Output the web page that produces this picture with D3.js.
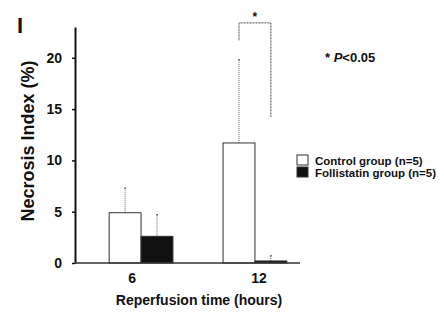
<!DOCTYPE html>
<html>
<head>
<meta charset="utf-8">
<script src="https://cdn.jsdelivr.net/npm/d3@7"></script>
<style>
  body { margin: 0; background: #fff; }
  text { font-family: "Liberation Sans", Arial, sans-serif; font-weight: bold; fill: #111; }
</style>
</head>
<body>
<div id="chart"></div>
<script>
// Data
const hours = ["6", "12"];
const groups = ["Control group (n=5)", "Follistatin group (n=5)"];
const controlMean = [4.9, 11.7];
const controlErr = [2.4, 8.1];
const follistatinMean = [2.6, 0.2];
const follistatinErr = [2.1, 0.5];
const yTicks = [0, 5, 10, 15, 20];

const W = 444, H = 314;
const margin = { top: 27, left: 75 };
const width = 246, height = 236;

const svg = d3.select("#chart").append("svg")
    .attr("width", W)
    .attr("height", H);

const g = svg.append("g")
    .attr("transform", `translate(${margin.left},${margin.top})`);

// Scales
const x = d3.scaleBand().domain(hours).range([0, width])
    .paddingInner(0.44).paddingOuter(0.3);
const x1 = d3.scaleBand().domain(groups).range([0, x.bandwidth()]);
const y = d3.scaleLinear().domain([0, 23]).range([height, 0]);

const rows = [];
hours.forEach((h, i) => {
  rows.push({ hour: h, group: groups[0], mean: controlMean[i], err: controlErr[i] });
  rows.push({ hour: h, group: groups[1], mean: follistatinMean[i], err: follistatinErr[i] });
});
const fill = d3.scaleOrdinal().domain(groups).range(["#fff", "#111"]);

// Error bars (dotted, behind the bars)
g.selectAll(".err")
  .data(rows)
  .enter().append("line")
    .attr("class", "err")
    .attr("x1", d => x(d.hour) + x1(d.group) + x1.bandwidth() / 2)
    .attr("x2", d => x(d.hour) + x1(d.group) + x1.bandwidth() / 2)
    .attr("y1", d => y(d.mean))
    .attr("y2", d => y(d.mean + d.err))
    .attr("stroke", "#666")
    .attr("stroke-width", 1)
    .attr("stroke-dasharray", "1,1");

g.selectAll(".cap")
  .data(rows)
  .enter().append("line")
    .attr("class", "cap")
    .attr("x1", d => x(d.hour) + x1(d.group) + x1.bandwidth() / 2 - 1)
    .attr("x2", d => x(d.hour) + x1(d.group) + x1.bandwidth() / 2 + 1)
    .attr("y1", d => y(d.mean + d.err))
    .attr("y2", d => y(d.mean + d.err))
    .attr("stroke", "#444");

// Bars
g.selectAll(".bar")
  .data(rows)
  .enter().append("rect")
    .attr("class", "bar")
    .attr("x", d => x(d.hour) + x1(d.group))
    .attr("y", d => y(d.mean))
    .attr("width", x1.bandwidth())
    .attr("height", d => y(0) - y(d.mean))
    .attr("fill", d => fill(d.group))
    .attr("stroke", "#333")
    .attr("stroke-width", 1);

// Y axis
const yAxis = g.append("g")
    .call(d3.axisLeft(y).tickValues(yTicks).tickSize(3).tickSizeOuter(0).tickPadding(10));
yAxis.select(".domain").attr("stroke", "#111").attr("stroke-width", 2);
yAxis.selectAll(".tick line").attr("stroke", "#111").attr("stroke-width", 1.5);
yAxis.selectAll(".tick text").style("font-size", "14px").style("font-family", "Liberation Sans, Arial, sans-serif").attr("font-weight", "bold").attr("fill", "#111");

// X axis baseline
g.append("line")
    .attr("x1", 0).attr("x2", 225)
    .attr("y1", y(0)).attr("y2", y(0))
    .attr("stroke", "#333").attr("stroke-width", 1.5);

// X tick labels
g.selectAll(".xlab")
  .data(hours)
  .enter().append("text")
    .attr("class", "xlab")
    .attr("x", (d, i) => x(d) + x.bandwidth() / 2 - (i === 0 ? 9 : -4))
    .attr("y", y(0) + 20)
    .attr("text-anchor", "middle")
    .style("font-size", "14px")
    .text(d => d);

// Axis titles
svg.append("text")
    .attr("x", 199).attr("y", 305)
    .attr("text-anchor", "middle")
    .style("font-size", "14px")
    .text("Reperfusion time (hours)");

svg.append("text")
    .attr("transform", "translate(34,141) rotate(-90)")
    .attr("text-anchor", "middle")
    .style("font-size", "18px")
    .text("Necrosis Index (%)");

// Panel label
svg.append("text")
    .attr("x", 17).attr("y", 33)
    .style("font-size", "22px")
    .text("I");

// Significance bracket at 12 h
const cx12 = x("12") + x1(groups[0]) + x1.bandwidth() / 2;
const fx12 = x("12") + x1(groups[1]) + x1.bandwidth() / 2;
const bracketTop = y(23.4);
g.append("path")
    .attr("d", `M${cx12},${y(21.7)}V${bracketTop}H${fx12}V${y(14.2)}`)
    .attr("fill", "none")
    .attr("stroke", "#444")
    .attr("stroke-width", 1)
    .attr("stroke-dasharray", "1,0.5");
g.append("text")
    .attr("x", (cx12 + fx12) / 2)
    .attr("y", bracketTop - 2)
    .attr("text-anchor", "middle")
    .style("font-size", "12px")
    .text("*");

// P value note
const pnote = svg.append("text")
    .attr("x", 325).attr("y", 62)
    .style("font-size", "13px");
pnote.append("tspan").text("* ");
pnote.append("tspan").style("font-style", "italic").text("P");
pnote.append("tspan").text("<0.05");

// Legend
const legend = svg.append("g").attr("transform", "translate(297,155)");
groups.forEach((name, i) => {
  legend.append("rect")
      .attr("x", 0).attr("y", i * 12)
      .attr("width", 11).attr("height", 10)
      .attr("fill", fill(name))
      .attr("stroke", "#333");
  legend.append("text")
      .attr("x", 18).attr("y", i * 12 + 10)
      .style("font-size", "11.5px")
      .text(name);
});
</script>
</body>
</html>
